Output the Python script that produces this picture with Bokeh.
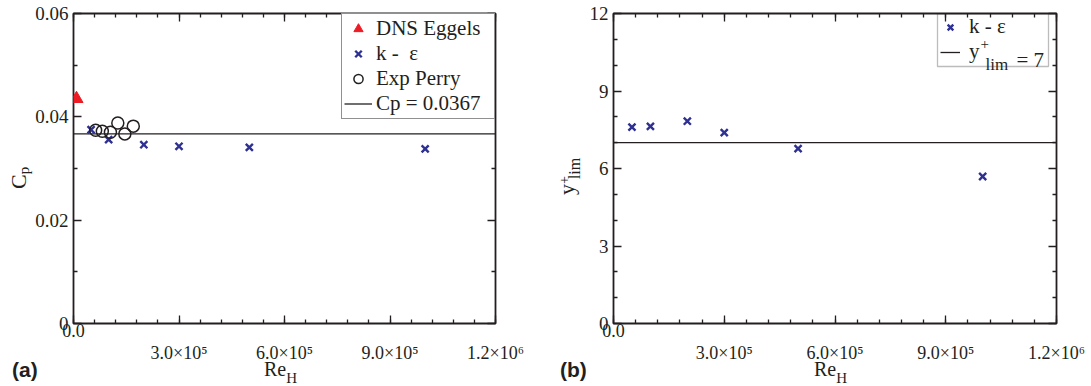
from bokeh.plotting import figure
from bokeh.models import (FixedTicker, Label, Legend, LegendItem, BoxAnnotation,
                          LinearAxis, CustomJSTickFormatter, Range1d, Div)
from bokeh.layouts import row
from bokeh.embed import file_html
from bokeh.resources import INLINE

# ---------------- data ----------------
re_dns = [8.5e3]
cp_dns = [0.0435]

re_ke = [5e4, 1e5, 2e5, 3e5, 5e5, 1e6]
cp_ke = [0.0375, 0.0356, 0.0346, 0.0343, 0.0341, 0.0338]

re_perry = [6.3e4, 8.2e4, 1.05e5, 1.26e5, 1.46e5, 1.70e5]
cp_perry = [0.0374, 0.0372, 0.0370, 0.0388, 0.0367, 0.0382]

cp_fit = 0.0367

yplus_ke = [7.60, 7.63, 7.83, 7.39, 6.77, 5.69]
yplus_fit = 7.0

x_lim = (0, 1.2e6)
x_ticks = [0, 3e5, 6e5, 9e5, 1.2e6]
x_tick_first = ["0.0", "", "", "", ""]
x_tick_rest = ["", "3.0\u00d710\u2075", "6.0\u00d710\u2075", "9.0\u00d710\u2075", "1.2\u00d710\u2076"]
x_minor = [6e4 * i for i in range(21)]

cp_lim = (0, 0.06)
cp_ticks = [0, 0.02, 0.04, 0.06]
cp_tick_labels = ["0", "0.02", "0.04", "0.06"]
cp_minor = [0.01, 0.03, 0.05]

yp_lim = (0, 12)
yp_ticks = [0, 3, 6, 9, 12]
yp_tick_labels = ["0", "3", "6", "9", "12"]
yp_minor = [1, 2, 4, 5, 7, 8, 10, 11]

# ---------------- style ----------------
INK = "#231f20"
BLUE = "#2e3192"
RED = "#ed1c24"
SERIF = "Liberation Serif"
H = 386
TOP = 13
BOT = 63

LOOKUP = ("for (let i = 0; i < t.length; i++) {"
          " if (Math.abs(tick - t[i]) < 1e-9 * (1 + Math.abs(t[i]))) return l[i]; }"
          " return '';")


def fmt(ticks, labels):
    return CustomJSTickFormatter(args=dict(t=list(ticks), l=list(labels)), code=LOOKUP)


def make_fig(width, left, right, yr):
    p = figure(width=width, height=H, x_range=Range1d(*x_lim), y_range=Range1d(*yr),
               output_backend="svg", toolbar_location=None,
               min_border_left=left, min_border_right=right,
               min_border_top=TOP, min_border_bottom=BOT,
               x_axis_location=None, y_axis_location=None)
    p.xgrid.visible = False
    p.ygrid.visible = False
    p.outline_line_color = INK
    p.outline_line_width = 1.8
    p.background_fill_color = "white"
    p.border_fill_color = "white"
    return p


def base_axis(ax, ticks, minor, marks=True, size="18px"):
    ax.ticker = FixedTicker(ticks=ticks, minor_ticks=minor)
    ax.axis_line_color = None
    if marks:
        ax.major_tick_in = 8
        ax.major_tick_out = 0
        ax.minor_tick_in = 4
        ax.minor_tick_out = 0
        ax.major_tick_line_color = INK
        ax.minor_tick_line_color = INK
        ax.major_tick_line_width = 1.3
        ax.minor_tick_line_width = 1.3
    else:
        ax.major_tick_in = 0
        ax.major_tick_out = 0
        ax.minor_tick_in = 0
        ax.minor_tick_out = 0
        ax.major_tick_line_color = None
        ax.minor_tick_line_color = None
    ax.major_label_text_font = SERIF
    ax.major_label_text_font_size = size
    ax.major_label_text_color = INK


def add_axes(p, yticks, yminor, ylabels):
    # bottom: tick marks + the "0.0" label
    b1 = LinearAxis()
    base_axis(b1, x_ticks, x_minor, True)
    b1.formatter = fmt(x_ticks, x_tick_first)
    b1.major_label_standoff = 0
    p.add_layout(b1, "below")
    # second row of bottom labels (the powers of ten)
    b2 = LinearAxis()
    base_axis(b2, x_ticks, [], False)
    b2.formatter = fmt(x_ticks, x_tick_rest)
    b2.major_label_standoff = 3
    p.add_layout(b2, "below")
    # mirrored top / right axes with ticks only
    t = LinearAxis()
    base_axis(t, x_ticks, x_minor, True)
    t.formatter = CustomJSTickFormatter(code="return ''")
    t.major_label_standoff = 0
    t.major_label_text_font_size = "1px"
    p.add_layout(t, "above")
    l = LinearAxis()
    base_axis(l, yticks, yminor, True, size="19px")
    l.formatter = fmt(yticks, ylabels)
    l.major_label_standoff = 5
    p.add_layout(l, "left")
    r = LinearAxis()
    base_axis(r, yticks, yminor, True)
    r.formatter = CustomJSTickFormatter(code="return ''")
    r.major_label_standoff = 0
    r.major_label_text_font_size = "1px"
    p.add_layout(r, "right")


def txt(p, x, y, text, size):
    p.add_layout(Label(x=x, y=y, x_units="screen", y_units="screen", text=text,
                       text_font=SERIF, text_font_size=f"{size}px", text_align="left",
                       text_baseline="alphabetic", text_color=INK))


def html_text(text, left, top, size=20, font=SERIF, rotate=False, bold=False):
    st = {"position": "absolute", "left": f"{left}px", "top": f"{top}px",
          "font-family": f"'{font}'", "font-size": f"{size}px", "line-height": "1",
          "color": INK, "white-space": "nowrap", "margin": "0", "padding": "0"}
    if bold:
        st["font-weight"] = "bold"
    if rotate:
        st["transform"] = "rotate(-90deg)"
        st["transform-origin"] = "0 0"
    return Div(text=text, styles=st, margin=0)


# ---------------- panel (a) ----------------
W1, L1, R1 = 540, 73, 45
p1 = make_fig(W1, L1, R1, cp_lim)
add_axes(p1, cp_ticks, cp_minor, cp_tick_labels)

r_fit = p1.line(x=list(x_lim), y=[cp_fit, cp_fit], line_color=INK, line_width=1.3)
r_dns = p1.scatter(re_dns, cp_dns, marker="triangle", size=13, fill_color=RED, line_color=RED)
r_ke = p1.scatter(re_ke, cp_ke, marker="x", size=10, line_color=BLUE, line_width=2.4)
r_perry = p1.scatter(re_perry, cp_perry, marker="circle", size=12, fill_color=None,
                     line_color=INK, line_width=1.5)

leg1 = Legend(items=[LegendItem(label="DNS Eggels", renderers=[r_dns]),
                     LegendItem(label="k -\u00a0 \u03b5", renderers=[r_ke]),
                     LegendItem(label="Exp Perry", renderers=[r_perry]),
                     LegendItem(label="Cp = 0.0367", renderers=[r_fit])],
              location="top_right", margin=0, padding=2, spacing=0,
              glyph_width=28, glyph_height=23, label_height=23, label_width=116,
              label_standoff=4, label_text_font=SERIF, label_text_font_size="21px",
              label_text_color=INK, border_line_color=INK, border_line_width=1.3,
              background_fill_color="white", background_fill_alpha=1.0)
p1.add_layout(leg1)

# ---------------- panel (b) ----------------
W2, L2, R2 = 551, 73, 35
p2 = make_fig(W2, L2, R2, yp_lim)
add_axes(p2, yp_ticks, yp_minor, yp_tick_labels)

r_lim = p2.line(x=list(x_lim), y=[yplus_fit, yplus_fit], line_color=INK, line_width=1.3)
r_ke2 = p2.scatter(re_ke, yplus_ke, marker="x", size=10, line_color=BLUE, line_width=2.4)

p2.add_layout(BoxAnnotation(left=324, right=435, top=310, bottom=257,
                            left_units="screen", right_units="screen",
                            top_units="screen", bottom_units="screen",
                            fill_color=None, fill_alpha=0, line_color=INK, line_width=1.3,
                            editable=False))
leg2 = Legend(items=[LegendItem(label="k - \u03b5", renderers=[r_ke2]),
                     LegendItem(label="y", renderers=[r_lim])],
              location=(327, 259), margin=0, padding=0, spacing=0,
              glyph_width=20, glyph_height=24, label_height=24, label_width=70,
              label_standoff=9, label_text_font=SERIF, label_text_font_size="21px",
              label_text_color=INK, border_line_color=None,
              background_fill_color=None, background_fill_alpha=0)
p2.add_layout(leg2)
txt(p2, 367, 280, "+", 15)
txt(p2, 372, 259, "lim", 17)
txt(p2, 403, 264, "= 7", 21)

# ---------------- titles outside the plot frames (HTML text) ----------------
SUB = '<span style="font-size:{s}px; vertical-align:{v}px">{t}</span>'
titles = [
    html_text("Re" + SUB.format(s=15, v=-7, t="H"), 264, 359, 20),
    html_text("Re" + SUB.format(s=15, v=-7, t="H"), 814, 359, 20),
    html_text("(a)", 12, 359, 21, font="Liberation Sans", bold=True),
    html_text("(b)", 560, 359, 21, font="Liberation Sans", bold=True),
    html_text("C" + SUB.format(s=15, v=-3, t="p"), 8, 189, 22, rotate=True),
    html_text("y" + SUB.format(s=14, v=5, t="+")
              + '<span style="font-size:16px; vertical-align:-6px; margin-left:-3px">lim</span>',
              556, 195, 22, rotate=True),
]

layout = row(p1, p2)
open("out.html", "w").write(file_html([layout] + titles, INLINE))
